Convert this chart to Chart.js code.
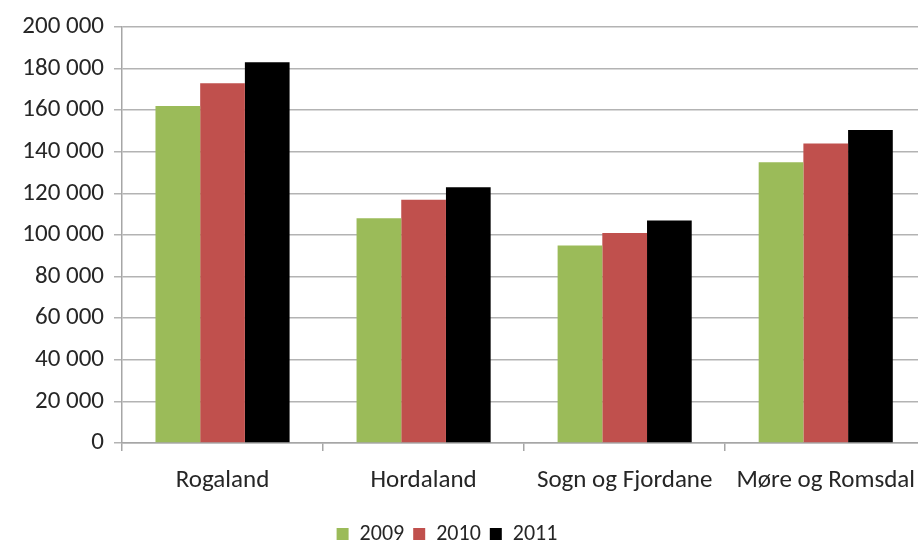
<!DOCTYPE html>
<html>
<head>
<meta charset="utf-8">
<script src="https://cdn.jsdelivr.net/npm/chart.js@4"></script>
<style>
html,body{margin:0;padding:0;background:#fff;overflow:hidden;width:918px;height:542px;}
#wrap{position:absolute;left:0;top:0;width:930px;height:542px;}
</style>
</head>
<body>
<div id="wrap"><canvas id="c" width="930" height="542"></canvas></div>
<script>
const categories = ["Rogaland", "Hordaland", "Sogn og Fjordane", "Møre og Romsdal"];
const seriesNames = ["2009", "2010", "2011"];
const values2009 = [162000, 108000, 95000, 135000];
const values2010 = [173000, 117000, 101000, 144000];
const values2011 = [183000, 123000, 107000, 150500];
const colors = ["#9BBB59", "#C0504D", "#000000"];
const yMin = 0, yMax = 200000, yStep = 20000;

const FONT = "Carlito, Calibri, Lato, sans-serif";
const fmt = v => String(v).replace(/\B(?=(\d{3})+(?!\d))/g, " ");

const legendShift = {
  id: 'legendShift',
  afterLayout(chart) {
    const l = chart.legend;
    if (l) { l.left -= 18; l.right -= 18; if (l.legendHitBoxes) l.legendHitBoxes.forEach(h => h.left -= 18); }
  }
};

new Chart(document.getElementById('c'), {
  type: 'bar',
  data: {
    labels: categories,
    datasets: [values2009, values2010, values2011].map((d, i) => ({
      label: seriesNames[i],
      data: d,
      backgroundColor: colors[i],
      borderWidth: 0,
      categoryPercentage: 0.667,
      barPercentage: 1.0
    }))
  },
  plugins: [legendShift],
  options: {
    responsive: false,
    animation: false,
    devicePixelRatio: 1,
    layout: { padding: { top: 27, right: 0, left: 0, bottom: -13 } },
    plugins: {
      tooltip: { enabled: false },
      legend: {
        position: 'bottom',
        labels: {
          font: { family: FONT, size: 22 },
          color: '#262626',
          boxWidth: 12,
          boxHeight: 12,
          padding: 9
        }
      }
    },
    scales: {
      x: {
        grid: { display: true, offset: true, drawOnChartArea: false, drawTicks: true, tickLength: 8, color: '#a6a6a6', lineWidth: 1.5 },
        border: { display: true, color: '#a6a6a6', width: 1.5 },
        ticks: { font: { family: FONT, size: 25 }, color: '#262626', maxRotation: 0, minRotation: 0, autoSkip: false, padding: 15 },
        afterFit: s => { s.height = 71; }
      },
      y: {
        min: yMin, max: yMax,
        grid: { color: '#b3b3b3', lineWidth: 1.5, drawTicks: true, tickLength: 8 },
        border: { display: true, color: '#a6a6a6', width: 1.5 },
        ticks: { stepSize: yStep, font: { family: FONT, size: 25 }, color: '#262626', padding: 10, callback: v => fmt(v) },
        afterFit: s => { s.width = 122; }
      }
    }
  }
});
</script>
</body>
</html>
